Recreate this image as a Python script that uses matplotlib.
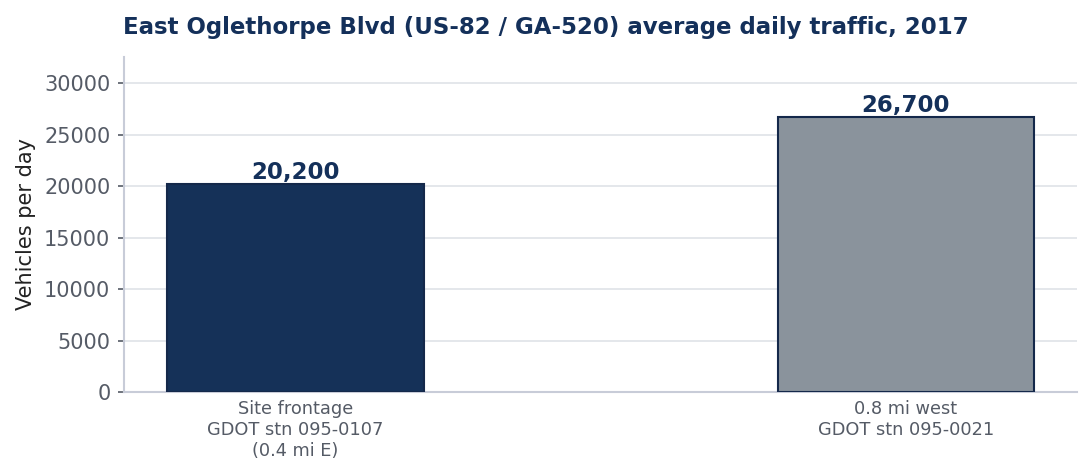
import matplotlib
matplotlib.use("Agg")
import matplotlib.pyplot as plt

categories = ["Site frontage\nGDOT stn 095-0107\n(0.4 mi E)", "0.8 mi west\nGDOT stn 095-0021"]
values = [20200, 26700]
bar_labels = ["20,200", "26,700"]
colors = ["#153158", "#8a939c"]

navy = "#14305a"
gray_txt = "#555b66"
spine_c = "#c8ccd8"

fig = plt.figure(figsize=(7.28, 3.16), dpi=150)
ax = fig.add_axes([0.1135, 0.173, 0.873, 0.707])

x = list(range(len(categories)))
bars = ax.bar(x, values, width=0.42, color=colors, edgecolor="#14284a", linewidth=1.0, zorder=3)
for b, lab in zip(bars, bar_labels):
    ax.text(b.get_x() + b.get_width() / 2, b.get_height() + 30, lab,
            ha="center", va="bottom", fontsize=11, fontweight="bold", color=navy, zorder=4)

ax.set_ylim(0, max(values) * 1.22)
ax.set_xticks(x)
ax.set_xticklabels(categories, fontsize=8.5, color=gray_txt)
ax.tick_params(axis="x", length=0, pad=4)
ax.tick_params(axis="y", labelsize=10, labelcolor=gray_txt, color=gray_txt, length=3)
ax.set_ylabel("Vehicles per day", fontsize=10, color="#222222")
ax.grid(axis="y", color="#e3e6ea", linewidth=0.9, zorder=0)
ax.set_axisbelow(True)
for s in ["top", "right"]:
    ax.spines[s].set_visible(False)
for s in ["left", "bottom"]:
    ax.spines[s].set_color(spine_c)
    ax.spines[s].set_linewidth(1.0)

fig.suptitle("East Oglethorpe Blvd (US-82 / GA-520) average daily traffic, 2017",
             x=0.5, y=0.943, va="center", fontsize=11, fontweight="bold", color=navy)

fig.savefig("out.png", dpi=150)
